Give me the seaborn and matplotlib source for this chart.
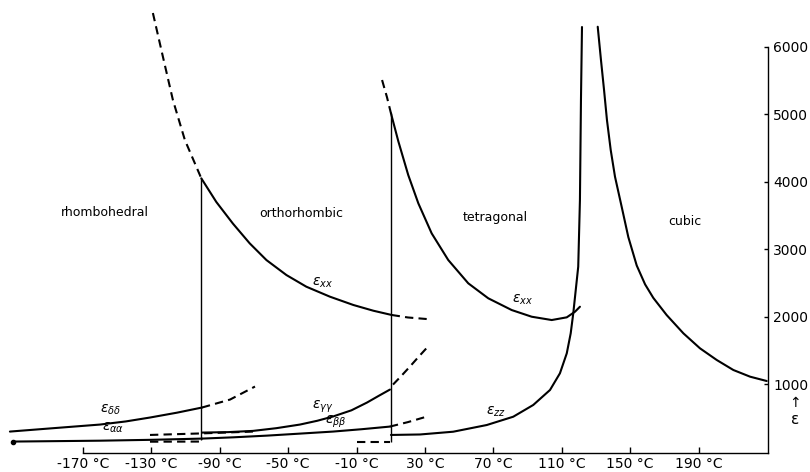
import matplotlib
matplotlib.use("Agg")
import matplotlib.pyplot as plt
import seaborn as sns
import pandas as pd

sns.set_style("white")
plt.rcParams['font.family'] = ['DejaVu Sans']
plt.rcParams['text.color'] = 'black'
plt.rcParams['xtick.color'] = 'black'
plt.rcParams['ytick.color'] = 'black'

# temperatures (deg C) and permittivity values
# orthorhombic eps_xx
ortho_xx_dash_t = [-129.1, -123.2, -117.4, -110.4, -100.8]
ortho_xx_dash_e = [6499, 5847, 5211, 4618, 4051]
ortho_xx_t = [-100.8, -92.0, -82.3, -72.5, -62.7, -51.0, -39.4, -25.6, -11.9, -0.2, 10.5]
ortho_xx_e = [4051, 3700, 3380, 3088, 2840, 2618, 2446, 2298, 2175, 2090, 2027]
ortho_xx_tail_t = [10.5, 20.0, 31.0]
ortho_xx_tail_e = [2027, 1990, 1967]

# tetragonal eps_xx
tetra_xx_dash_t = [4.9, 7.8, 10.1]
tetra_xx_dash_e = [5507, 5250, 5014]
tetra_xx_t = [10.1, 14.4, 20.2, 26.1, 33.9, 43.6, 55.3, 67.0, 80.7, 92.4, 104.1, 112.9, 117.7, 120.6]
tetra_xx_e = [5014, 4600, 4100, 3681, 3236, 2841, 2496, 2274, 2100, 2001, 1952, 1992, 2075, 2149]

# eps_zz
zz_dash_t = [-9.8, 9.5]
zz_dash_e = [152, 152]
zz_t = [10.1, 27.1, 46.5, 66.1, 81.6, 93.3, 103.1, 108.9, 112.9, 115.2, 116.7, 119.6, 120.6, 121.2, 121.8]
zz_e = [250, 257, 298, 397, 520, 694, 916, 1163, 1459, 1755, 2051, 2742, 3730, 5211, 6292]

# cubic
cubic_t = [131.0, 132.9, 134.7, 136.4, 138.6, 141.1, 145.0, 148.9, 153.8, 158.7, 163.5, 171.3,
           181.1, 190.8, 200.6, 210.3, 220.1, 229.8]
cubic_e = [6296, 5803, 5359, 4914, 4470, 4075, 3630, 3180, 2760, 2480, 2280, 2026,
           1755, 1533, 1360, 1212, 1113, 1049]

# rhombohedral eps_dd and eps_aa
dd_t = [-212.7, -190.0, -160.0, -145.0, -130.8, -115.0, -100.4]
dd_e = [300, 345, 404, 450, 508, 580, 656]
dd_dash_t = [-100.4, -84.0, -69.4]
dd_dash_e = [656, 774, 967]
aa_t = [-211.0, -160.0, -130.0, -100.4]
aa_e = [152, 165, 178, 196]
low_dash_t = [-130.8, -101.6]
low_dash_e = [150, 152]
mid_dash_t = [-130.8, -101.6, -70.6]
mid_dash_e = [250, 272, 300]

# orthorhombic eps_gg and eps_bb
gg_t = [-100.4, -85.0, -70.6, -57.0, -43.1, -33.0, -23.8, -13.0, -3.9, 3.0, 9.5]
gg_e = [285, 292, 310, 350, 404, 460, 523, 615, 730, 830, 922]
gg_dash_t = [11.3, 16.0, 21.2, 26.0, 31.2]
gg_dash_e = [996, 1120, 1263, 1400, 1544]
bb_t = [-100.4, -82.0, -62.4, -43.0, -23.8, -7.0, 9.5]
bb_e = [196, 215, 240, 270, 300, 335, 374]
bb_dash_t = [9.5, 20.0, 31.2]
bb_dash_e = [374, 440, 523]

# transition lines
trans_t = [-100.8, 10.1]
trans_bottom = [180, 150]
trans_top = [4051, 5014]

xticks = [-170, -130, -90, -50, -10, 30, 70, 110, 150, 190]
xtick_labels = ["-170 °C", "-130 °C", "-90 °C", "-50 °C", "-10 °C", "30 °C", "70 °C", "110 °C", "150 °C", "190 °C"]
yticks = [1000, 2000, 3000, 4000, 5000, 6000]

phases = ["rhombohedral", "orthorhombic", "tetragonal", "cubic"]
phase_t = [-157, -42.5, 71, 182]
phase_e = [3552, 3537, 3478, 3418]

curve_labels = [r"$\epsilon_{xx}$", r"$\epsilon_{xx}$", r"$\epsilon_{zz}$", r"$\epsilon_{\delta\delta}$",
                r"$\epsilon_{\alpha\alpha}$", r"$\epsilon_{\gamma\gamma}$", r"$\epsilon_{\beta\beta}$"]
label_t = [-30, 87, 71.5, -154, -152.5, -30, -22]
label_e = [2500, 2248, 590, 626, 360, 670, 448]

fig = plt.figure(figsize=(8.1, 4.72), dpi=100)
ax = fig.add_axes([0.0, 0.0403, 0.9478, 0.9597])

def draw(t, e, dashed=False, lw=1.5):
    df = pd.DataFrame({"T": t, "eps": e})
    sns.lineplot(data=df, x="T", y="eps", ax=ax, sort=False, estimator=None,
                 color="black", linewidth=lw, linestyle=(0, (4, 2.5)) if dashed else "-")

draw(ortho_xx_dash_t, ortho_xx_dash_e, dashed=True)
draw(ortho_xx_t, ortho_xx_e)
draw(ortho_xx_tail_t, ortho_xx_tail_e, dashed=True)
draw(tetra_xx_dash_t, tetra_xx_dash_e, dashed=True)
draw(tetra_xx_t, tetra_xx_e)
draw(zz_dash_t, zz_dash_e, dashed=True)
draw(zz_t, zz_e)
draw(cubic_t, cubic_e)
draw(dd_t, dd_e)
draw(dd_dash_t, dd_dash_e, dashed=True)
draw(aa_t, aa_e)
draw(low_dash_t, low_dash_e, dashed=True)
draw(mid_dash_t, mid_dash_e, dashed=True)
draw(gg_t, gg_e)
draw(gg_dash_t, gg_dash_e, dashed=True)
draw(bb_t, bb_e)
draw(bb_dash_t, bb_dash_e, dashed=True)
ax.plot(aa_t[0], aa_e[0], "o", color="black", markersize=3)

for t, lo, hi in zip(trans_t, trans_bottom, trans_top):
    ax.vlines(t, lo, hi, color="black", linewidth=1.0)

for name, t, e in zip(phases, phase_t, phase_e):
    ax.text(t, e, name, ha="center", va="center", fontsize=9)
for name, t, e in zip(curve_labels, label_t, label_e):
    ax.text(t, e, name, ha="center", va="center", fontsize=10)

ax.set_xlim(-218.5, 230.4)
ax.set_ylim(-17, 6692)
ax.set_xlabel("")
ax.set_ylabel("")
for s in ["left", "top"]:
    ax.spines[s].set_visible(False)
ax.spines["bottom"].set_bounds(-170, 230.4)
ax.spines["right"].set_bounds(-17, 6000)
for s in ["bottom", "right"]:
    ax.spines[s].set_color("black")
    ax.spines[s].set_linewidth(1.0)

ax.set_xticks(xticks)
ax.set_xticklabels(xtick_labels)
ax.yaxis.tick_right()
ax.set_yticks(yticks)
ax.set_yticklabels([str(v) for v in yticks])
ax.tick_params(axis="x", direction="in", length=4, width=1, pad=3, labelsize=10, bottom=True)
ax.tick_params(axis="y", direction="in", length=3, width=1, pad=4, labelsize=10, right=True, left=False)

fig.text(0.982, 0.146, "↑", ha="center", va="center", fontsize=10)
fig.text(0.982, 0.112, "ε", ha="center", va="center", fontsize=11)

plt.savefig("out.png", dpi=100)
plt.close()
